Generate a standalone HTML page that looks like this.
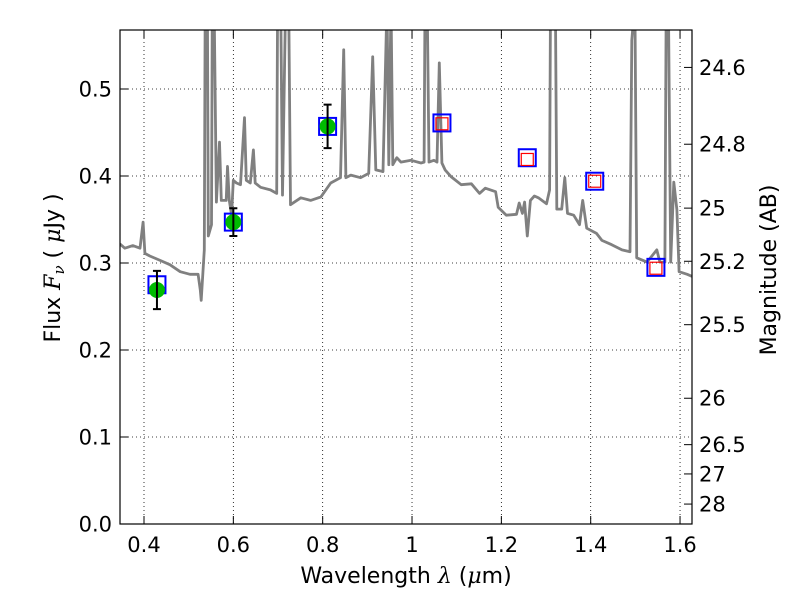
<!DOCTYPE html>
<html><head><meta charset="utf-8"><style>
body{margin:0;background:#fff;}
svg{display:block;font-family:"DejaVu Sans","Liberation Sans",sans-serif;}
</style></head><body>
<svg id="chart" width="800" height="600" viewBox="0 0 800 600">
<defs><clipPath id="pa"><rect x="120" y="30" width="572" height="494"/></clipPath></defs>
<rect x="0" y="0" width="800" height="600" fill="#fff"/>
<g id="grid"></g>
<g id="series" clip-path="url(#pa)"></g>
<rect x="120" y="30" width="572" height="494" fill="none" stroke="#000" stroke-width="1.2"/>
<g id="axes"></g>
<text x="406" y="583" font-size="22" text-anchor="middle">Wavelength  <tspan font-style="italic" font-family="DejaVu Serif,serif">λ</tspan> (<tspan font-style="italic" font-family="DejaVu Serif,serif">μ</tspan>m)</text>
<text transform="translate(60,268) rotate(-90)" font-size="22" text-anchor="middle">Flux  <tspan font-style="italic" font-family="DejaVu Serif,serif">F<tspan font-size="15" dy="4">ν</tspan></tspan><tspan dy="-4">   (  </tspan><tspan font-style="italic" font-family="DejaVu Serif,serif">μ</tspan>Jy )</text>
<text transform="translate(776,270) rotate(-90)" font-size="22" text-anchor="middle">Magnitude (AB)</text>
</svg>
<script>
const xTicks=[0.4,0.6,0.8,1.0,1.2,1.4,1.6];
const xTickLabels=["0.4","0.6","0.8","1","1.2","1.4","1.6"];
const yTicks=[0,0.1,0.2,0.3,0.4,0.5];
const yTickLabels=["0.0","0.1","0.2","0.3","0.4","0.5"];
const magTicks=[24.6,24.8,25,25.2,25.5,26,26.5,27,28];
const magTickLabels=["24.6","24.8","25","25.2","25.5","26","26.5","27","28"];
const specWave=[0.346,0.357,0.375,0.391,0.398,0.402,0.413,0.436,0.458,0.481,0.503,0.521,0.526,0.528,0.535,0.537,0.542,0.544,0.551,0.553,0.557,0.562,0.569,0.573,0.584,0.587,0.591,0.596,0.600,0.607,0.616,0.625,0.629,0.638,0.645,0.649,0.661,0.683,0.697,0.699,0.706,0.710,0.717,0.724,0.728,0.751,0.773,0.796,0.818,0.840,0.847,0.852,0.863,0.885,0.903,0.912,0.919,0.935,0.944,0.948,0.953,0.957,0.966,0.975,0.998,1.020,1.027,1.029,1.034,1.038,1.049,1.056,1.061,1.067,1.074,1.088,1.110,1.133,1.151,1.164,1.187,1.193,1.211,1.234,1.240,1.247,1.252,1.258,1.265,1.274,1.283,1.301,1.308,1.310,1.321,1.324,1.335,1.342,1.348,1.362,1.375,1.382,1.391,1.413,1.425,1.447,1.470,1.488,1.492,1.499,1.503,1.526,1.548,1.555,1.566,1.569,1.574,1.579,1.586,1.593,1.598,1.616,1.634];
const specFlux=[0.322,0.317,0.320,0.317,0.347,0.311,0.308,0.303,0.298,0.290,0.287,0.287,0.269,0.257,0.315,0.6,0.6,0.331,0.344,0.6,0.6,0.370,0.439,0.372,0.372,0.411,0.372,0.355,0.395,0.392,0.390,0.467,0.395,0.392,0.430,0.392,0.387,0.384,0.380,0.6,0.6,0.378,0.6,0.6,0.367,0.375,0.372,0.376,0.392,0.398,0.545,0.398,0.401,0.398,0.403,0.537,0.407,0.405,0.6,0.413,0.6,0.413,0.421,0.416,0.418,0.415,0.416,0.6,0.6,0.416,0.418,0.416,0.530,0.415,0.407,0.399,0.390,0.391,0.380,0.386,0.382,0.364,0.355,0.356,0.369,0.357,0.370,0.331,0.372,0.377,0.375,0.368,0.384,0.6,0.6,0.362,0.362,0.398,0.357,0.355,0.344,0.372,0.340,0.334,0.326,0.321,0.315,0.313,0.556,0.6,0.306,0.301,0.315,0.301,0.301,0.6,0.6,0.301,0.393,0.361,0.290,0.287,0.283];
const obsWave=[0.429,0.600,0.811];
const obsFlux=[0.269,0.347,0.457];
const obsErr=[0.022,0.016,0.025];
const modelWave=[0.429,0.600,0.811,1.067,1.258,1.409,1.546];
const modelFlux=[0.275,0.347,0.457,0.461,0.421,0.394,0.295];
const predWave=[1.067,1.258,1.409,1.546];
const predFlux=[0.460,0.419,0.394,0.294];

const NS="http://www.w3.org/2000/svg";
const X=v=>144+(v-0.4)*446.7;
const Y=v=>524-v*870;
const magToY=m=>Y(Math.pow(10,(23.9-m)/2.5));
function mk(p,t,a){const e=document.createElementNS(NS,t);for(const k in a)e.setAttribute(k,a[k]);p.appendChild(e);return e;}
const grid=document.getElementById('grid'),axes=document.getElementById('axes'),ser=document.getElementById('series');
xTicks.forEach((t,i)=>{const x=X(t);
 const g=mk(grid,'line',{x1:x,x2:x,y1:30,y2:524,stroke:'#000','stroke-width':0.8,'stroke-dasharray':'1,3'});
 
 const tk=mk(axes,'line',{x1:x,x2:x,y1:524,y2:516,stroke:'#000'});
 const tt=mk(axes,'line',{x1:x,x2:x,y1:30,y2:38,stroke:'#000'});
 const l=mk(axes,'text',{x:x,y:552,'font-size':21,'text-anchor':'middle'});l.textContent=xTickLabels[i];
 });
yTicks.forEach((t,i)=>{const y=Y(t);
 const g=mk(grid,'line',{x1:120,x2:692,y1:y,y2:y,stroke:'#000','stroke-width':0.8,'stroke-dasharray':'1,3'});
 
 const tk=mk(axes,'line',{x1:120,x2:128,y1:y,y2:y,stroke:'#000'});
 const l=mk(axes,'text',{x:112,y:y+7.5,'font-size':21,'text-anchor':'end'});l.textContent=yTickLabels[i];
 });
magTicks.forEach((m,i)=>{const y=magToY(m);
 const tk=mk(axes,'line',{x1:692,x2:684,y1:y,y2:y,stroke:'#000'});
 const l=mk(axes,'text',{x:699,y:y+7.5,'font-size':21});l.textContent=magTickLabels[i];
 });
const d=specWave.map((w,i)=>(i?'L':'M')+X(w).toFixed(1)+','+Y(specFlux[i]).toFixed(1)).join(' ');
const sp=mk(ser,'path',{d:d,fill:'none',stroke:'#808080','stroke-width':2.8,'stroke-linejoin':'round'});

modelWave.forEach((w,i)=>{const x=X(w),y=Y(modelFlux[i]);
 const r=mk(ser,'rect',{x:x-8.5,y:y-8.5,width:17,height:17,fill:'none',stroke:'#0000ff','stroke-width':2});
 });
predWave.forEach((w,i)=>{const x=X(w),y=Y(predFlux[i]);
 const r=mk(ser,'rect',{x:x-6,y:y-6,width:12,height:12,fill:'none',stroke:'#ff0000','stroke-width':1.2});
 });
obsWave.forEach((w,i)=>{const x=X(w),y=Y(obsFlux[i]),y1=Y(obsFlux[i]+obsErr[i]),y2=Y(obsFlux[i]-obsErr[i]);
 const c=mk(ser,'circle',{cx:x,cy:y,r:8,fill:'#00bb00'});
 const e=mk(ser,'path',{d:`M${x},${y1}V${y2}M${x-4},${y1}H${x+4}M${x-4},${y2}H${x+4}`,stroke:'#000','stroke-width':2,fill:'none'});
 });
</script>
</body></html>
